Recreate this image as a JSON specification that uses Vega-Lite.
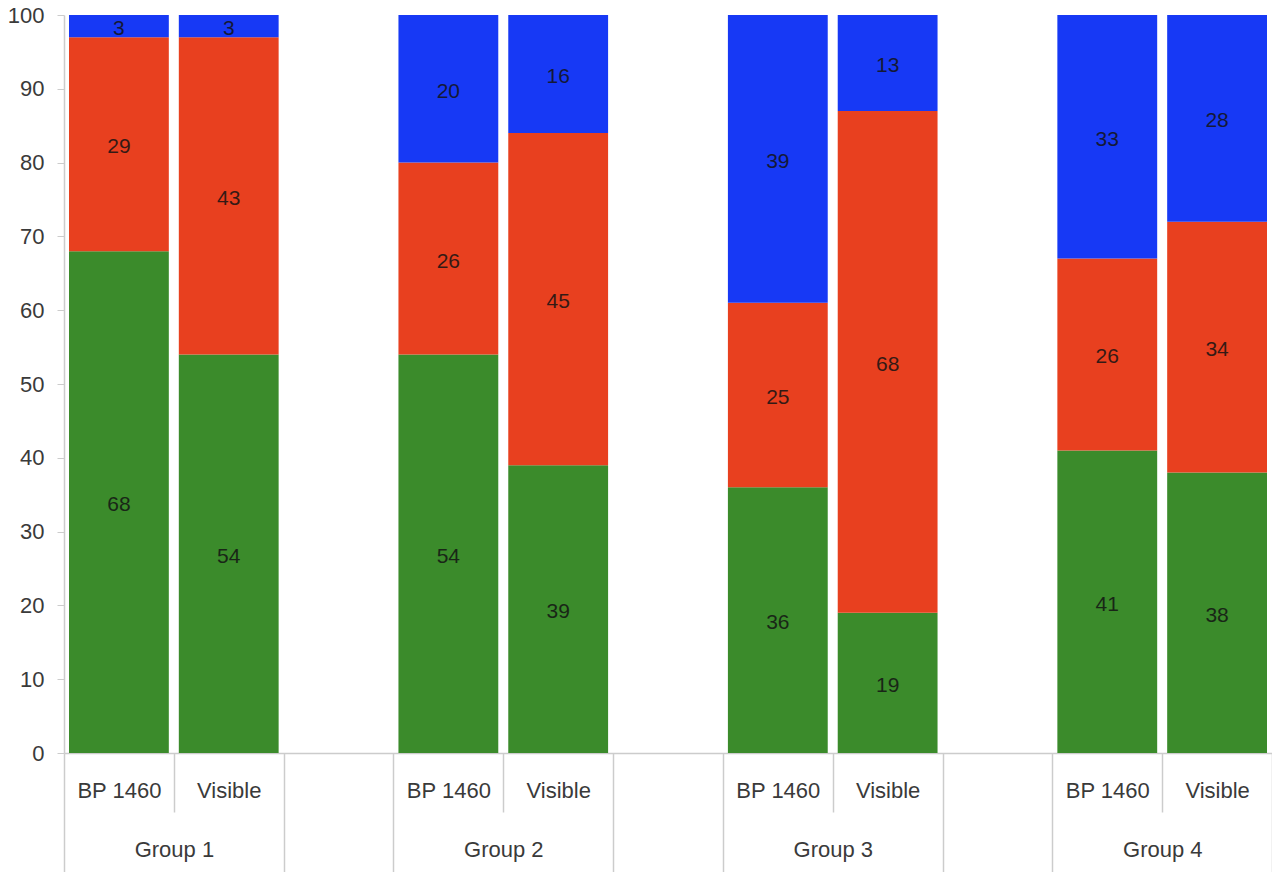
{
  "$schema": "https://vega.github.io/schema/vega-lite/v6.json",
  "width": 1208,
  "height": 738,
  "autosize": {"type": "none"},
  "padding": {"left": 64, "top": 15, "right": 0, "bottom": 119},
  "background": "white",
  "view": {"stroke": null},
  "config": {
    "font": "Liberation Sans",
    "axis": {"labelFont": "Liberation Sans", "labelColor": "#3a3a3a", "labelFontSize": 22}
  },
  "data": {
    "values": [
      {"slot": "Group 1|BP 1460", "tier": "Tier 1", "order": 1, "value": 68},
      {"slot": "Group 1|BP 1460", "tier": "Tier 2", "order": 2, "value": 29},
      {"slot": "Group 1|BP 1460", "tier": "Tier 3", "order": 3, "value": 3},
      {"slot": "Group 1|Visible", "tier": "Tier 1", "order": 1, "value": 54},
      {"slot": "Group 1|Visible", "tier": "Tier 2", "order": 2, "value": 43},
      {"slot": "Group 1|Visible", "tier": "Tier 3", "order": 3, "value": 3},
      {"slot": "Group 2|BP 1460", "tier": "Tier 1", "order": 1, "value": 54},
      {"slot": "Group 2|BP 1460", "tier": "Tier 2", "order": 2, "value": 26},
      {"slot": "Group 2|BP 1460", "tier": "Tier 3", "order": 3, "value": 20},
      {"slot": "Group 2|Visible", "tier": "Tier 1", "order": 1, "value": 39},
      {"slot": "Group 2|Visible", "tier": "Tier 2", "order": 2, "value": 45},
      {"slot": "Group 2|Visible", "tier": "Tier 3", "order": 3, "value": 16},
      {"slot": "Group 3|BP 1460", "tier": "Tier 1", "order": 1, "value": 36},
      {"slot": "Group 3|BP 1460", "tier": "Tier 2", "order": 2, "value": 25},
      {"slot": "Group 3|BP 1460", "tier": "Tier 3", "order": 3, "value": 39},
      {"slot": "Group 3|Visible", "tier": "Tier 1", "order": 1, "value": 19},
      {"slot": "Group 3|Visible", "tier": "Tier 2", "order": 2, "value": 68},
      {"slot": "Group 3|Visible", "tier": "Tier 3", "order": 3, "value": 13},
      {"slot": "Group 4|BP 1460", "tier": "Tier 1", "order": 1, "value": 41},
      {"slot": "Group 4|BP 1460", "tier": "Tier 2", "order": 2, "value": 26},
      {"slot": "Group 4|BP 1460", "tier": "Tier 3", "order": 3, "value": 33},
      {"slot": "Group 4|Visible", "tier": "Tier 1", "order": 1, "value": 38},
      {"slot": "Group 4|Visible", "tier": "Tier 2", "order": 2, "value": 34},
      {"slot": "Group 4|Visible", "tier": "Tier 3", "order": 3, "value": 28}
    ]
  },
  "resolve": {"axis": {"x": "independent"}},
  "layer": [
    {
      "mark": {"type": "bar", "width": {"band": 0.909}},
      "encoding": {
        "x": {
          "field": "slot",
          "type": "nominal",
          "title": null,
          "scale": {
            "domain": ["Group 1|BP 1460", "Group 1|Visible", "Group 1|", "Group 2|BP 1460", "Group 2|Visible", "Group 2|", "Group 3|BP 1460", "Group 3|Visible", "Group 3|", "Group 4|BP 1460", "Group 4|Visible"],
            "paddingInner": 0,
            "paddingOuter": 0
          },
          "axis": {
            "orient": "bottom",
            "domain": true,
            "domainColor": "#cccccc",
            "domainWidth": 1.5,
            "ticks": true,
            "tickBand": "extent",
            "tickColor": "#cccccc",
            "tickWidth": 1.5,
            "tickSize": 119,
            "tickOpacity": {"condition": {"test": "isString(datum.value) && indexof(datum.value, 'BP 1460') >= 0", "value": 0}, "value": 1},
            "labelExpr": "isString(datum.value) && indexof(datum.value, 'BP 1460') >= 0 ? slice(datum.value, 0, 7) : ''",
            "labelOffset": 55,
            "labelPadding": -33,
            "labelAngle": 0,
            "labelOverlap": false
          }
        },
        "y": {
          "field": "value",
          "type": "quantitative",
          "stack": "zero",
          "title": null,
          "scale": {"domain": [0, 100], "nice": false},
          "axis": {
            "values": [0, 10, 20, 30, 40, 50, 60, 70, 80, 90, 100],
            "grid": false,
            "domain": true,
            "domainColor": "#cccccc",
            "domainWidth": 1.5,
            "tickColor": "#cccccc",
            "tickSize": 7,
            "labelPadding": 13
          }
        },
        "order": {"field": "order", "type": "quantitative"},
        "color": {
          "field": "tier",
          "type": "nominal",
          "scale": {"domain": ["Tier 1", "Tier 2", "Tier 3"], "range": ["#3b8b2b", "#e8401f", "#1739f5"]},
          "legend": null
        }
      }
    },
    {
      "mark": {"type": "text", "fontSize": 21, "font": "Liberation Sans", "color": "#141414", "opacity": 0.85, "baseline": "middle", "dy": 3},
      "encoding": {
        "x": {
          "field": "slot",
          "type": "nominal",
          "title": null,
          "axis": {
            "orient": "bottom",
            "domain": false,
            "ticks": true,
            "tickBand": "extent",
            "tickColor": "#cccccc",
            "tickWidth": 1.5,
            "tickSize": 59,
            "tickOpacity": {"condition": {"test": "isString(datum.value) && indexof(datum.value, 'BP 1460') >= 0", "value": 1}, "value": 0},
            "labelExpr": "isString(datum.value) ? slice(datum.value, 8) : ''",
            "labelPadding": -32,
            "labelAngle": 0,
            "labelOverlap": false
          }
        },
        "y": {"field": "value", "type": "quantitative", "stack": "zero", "bandPosition": 0.5, "title": null},
        "detail": {"field": "tier", "type": "nominal"},
        "order": {"field": "order", "type": "quantitative"},
        "text": {"field": "value", "type": "quantitative"}
      }
    }
  ]
}
